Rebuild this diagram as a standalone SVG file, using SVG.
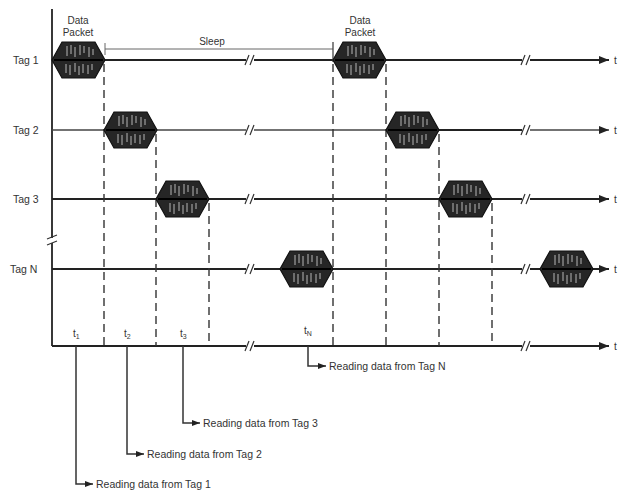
<svg xmlns="http://www.w3.org/2000/svg" width="620" height="494" viewBox="0 0 620 494">
<style>
text{font-family:"Liberation Sans",Arial,sans-serif;fill:#333;font-size:10px}
.lbl{font-size:10.5px}
.ax{stroke:#222;stroke-width:1.8;fill:none}
.tl{stroke:#444;stroke-width:1.3;fill:none}
.dash{stroke:#333;stroke-width:1.4;stroke-dasharray:8 5;fill:none}
.brk{stroke:#333;stroke-width:1.2;fill:none}
.lead{stroke:#333;stroke-width:1.5;fill:none}
.thin{stroke:#666;stroke-width:1;fill:none}
</style>
<defs>
<marker id="ah" viewBox="0 0 10 8" refX="10" refY="4" markerWidth="10" markerHeight="8" markerUnits="userSpaceOnUse" orient="auto">
<path d="M0,0 L10,4 L0,8 Z" fill="#222"/>
</marker>
<marker id="sh" viewBox="0 0 8 6" refX="8" refY="3" markerWidth="8" markerHeight="6" markerUnits="userSpaceOnUse" orient="auto">
<path d="M0,0 L8,3 L0,6 Z" fill="#222"/>
</marker>
<g id="pkt">
<polygon points="0,0 10,-18 43,-18 53,0 43,18 10,18" fill="#262626" stroke="#111" stroke-width="1.2"/>
<g stroke="#b5b5b5" stroke-width="1">
<path d="M15,-14V-4 M19,-15V-6 M23,-13V-3 M28,-15V-5 M32,-14V-7 M37,-13V-3 M41,-11V-5"/>
<path d="M14,4V13 M18,5V15 M23,3V12 M27,6V15 M31,4V13 M36,5V14 M40,4V10"/>
</g>
<path d="M2,0H51" stroke="#000" stroke-width="2"/>
</g>
</defs>

<g id="axes">
<path class="ax" d="M52,9V346"/>
<path class="ax" d="M52,346H609" marker-end="url(#ah)"/>
<rect x="46" y="238" width="12" height="5" fill="#fff"/>
<path class="brk" d="M47,239 L57,235 M47,245 L57,241"/>
</g>

<g id="timelines">
<path class="ax" d="M52,60H609" marker-end="url(#ah)"/>
<path class="tl" d="M52,130H609" marker-end="url(#ah)"/>
<path class="ax" d="M439,130H522" stroke-width="2.6"/>
<path class="ax" d="M52,199H609" marker-end="url(#ah)"/>
<path class="ax" d="M52,269H609" marker-end="url(#ah)"/>
<g id="breaks">
<g fill="#fff"><rect x="246" y="56" width="8" height="8"/><rect x="246" y="126" width="8" height="8"/><rect x="246" y="195" width="8" height="8"/><rect x="246" y="265" width="8" height="8"/><rect x="246" y="342" width="8" height="8"/>
<rect x="522" y="56" width="8" height="8"/><rect x="522" y="126" width="8" height="8"/><rect x="522" y="195" width="8" height="8"/><rect x="522" y="265" width="8" height="8"/><rect x="522" y="342" width="8" height="8"/></g>
<path class="brk" d="M245,65 L249,55 M250,65 L254,55 M245,135 L249,125 M250,135 L254,125 M245,204 L249,194 M250,204 L254,194 M245,274 L249,264 M250,274 L254,264 M245,351 L249,341 M250,351 L254,341"/>
<path class="brk" d="M521,65 L525,55 M526,65 L530,55 M521,135 L525,125 M526,135 L530,125 M521,204 L525,194 M526,204 L530,194 M521,274 L525,264 M526,274 L530,264 M521,351 L525,341 M526,351 L530,341"/>
</g>
<g id="t-ends">
<text x="614" y="64">t</text><text x="614" y="134">t</text><text x="614" y="203">t</text><text x="614" y="273">t</text><text x="614" y="350">t</text>
</g>
</g>

<g id="connectors">
<path class="dash" d="M104,64V346"/>
<path class="dash" d="M156,134V346"/>
<path class="dash" d="M209,203V346"/>
<path class="dash" d="M333,64V346"/>
<path class="dash" d="M386,64V346"/>
<path class="dash" d="M439,134V346"/>
<path class="dash" d="M492,203V346"/>
<path class="thin" d="M105,49H333 M105,43V55"/>
<path class="tl" d="M333,42V62"/>
<path class="lead" d="M76,346V484H93" marker-end="url(#sh)"/>
<path class="lead" d="M127,346V454H144" marker-end="url(#sh)"/>
<path class="lead" d="M183,346V423H200" marker-end="url(#sh)"/>
<path class="lead" d="M308,346V366H326" marker-end="url(#sh)"/>
</g>

<g id="tag1-packet1"><use href="#pkt" x="52" y="60"/></g>
<g id="tag1-packet2"><use href="#pkt" x="333" y="60"/></g>
<g id="tag2-packet1"><use href="#pkt" x="104" y="130"/></g>
<g id="tag2-packet2"><use href="#pkt" x="386" y="130"/></g>
<g id="tag3-packet1"><use href="#pkt" x="156" y="199"/></g>
<g id="tag3-packet2"><use href="#pkt" x="439" y="199"/></g>
<g id="tagN-packet1"><use href="#pkt" x="280" y="269"/></g>
<g id="tagN-packet2"><use href="#pkt" x="540" y="269"/></g>

<g id="labels">
<text class="lbl" x="13" y="64">Tag 1</text>
<text class="lbl" x="13" y="134">Tag 2</text>
<text class="lbl" x="13" y="203">Tag 3</text>
<text class="lbl" x="10" y="273">Tag N</text>
<text x="78" y="24" text-anchor="middle">Data</text>
<text x="78" y="36" text-anchor="middle">Packet</text>
<text x="360" y="24" text-anchor="middle">Data</text>
<text x="360" y="36" text-anchor="middle">Packet</text>
<text x="212" y="45" text-anchor="middle">Sleep</text>
<text x="73" y="337">t<tspan font-size="7" dy="2">1</tspan></text>
<text x="124" y="337">t<tspan font-size="7" dy="2">2</tspan></text>
<text x="180" y="337">t<tspan font-size="7" dy="2">3</tspan></text>
<text x="304" y="334">t<tspan font-size="7" dy="2">N</tspan></text>
<text class="lbl" x="96" y="488">Reading data from Tag 1</text>
<text class="lbl" x="147" y="458">Reading data from Tag 2</text>
<text class="lbl" x="203" y="427">Reading data from Tag 3</text>
<text class="lbl" x="329" y="370">Reading data from Tag N</text>
</g>
</svg>
